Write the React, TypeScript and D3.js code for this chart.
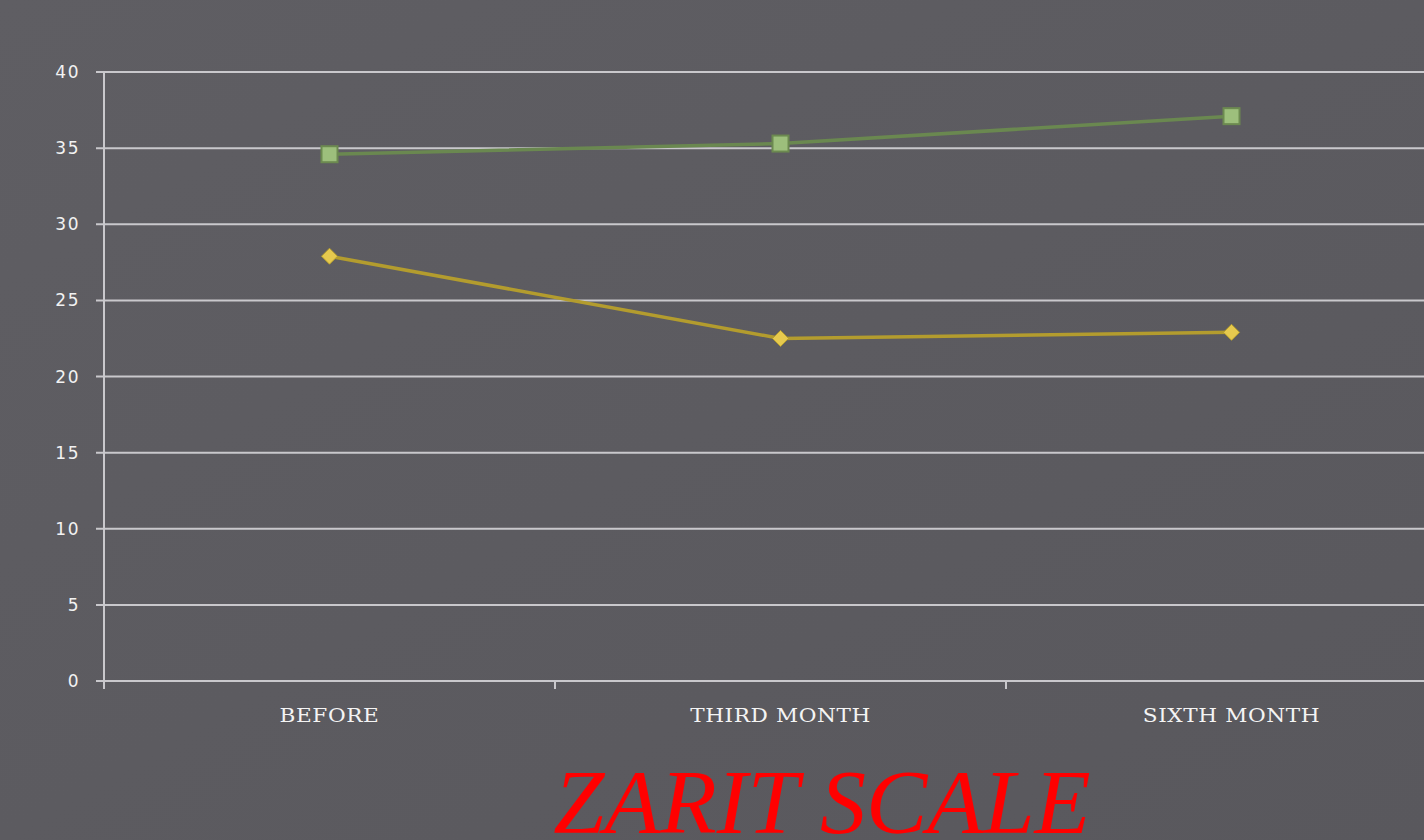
import React from "react";
import * as d3 from "d3";

const categories = ["BEFORE", "THIRD MONTH", "SIXTH MONTH"];
const seriesA = [34.6, 35.3, 37.1];
const seriesB = [27.9, 22.5, 22.9];
const yTicks = [0, 5, 10, 15, 20, 25, 30, 35, 40];
const title = "ZARIT SCALE";

const W = 1424;
const H = 840;

export default function App() {
  const x = d3.scaleBand<string>().domain(categories).range([104, 104 + 451 * 3]);
  const y = d3.scaleLinear().domain([0, 40]).range([681, 72]);
  const cx = (c: string) => (x(c) ?? 0) + x.bandwidth() / 2;
  const line = d3
    .line<number>()
    .x((_, i) => cx(categories[i]))
    .y((d) => y(d));

  return (
    <div style={{ position: "fixed", left: 0, top: 0, width: W, height: H }}>
      <svg width={W} height={H} style={{ display: "block" }}>
        <defs>
          <linearGradient id="bg" x1="0" y1="0" x2="1" y2="1">
            <stop offset="0" stopColor="#5f5e63" />
            <stop offset="1" stopColor="#59585d" />
          </linearGradient>
        </defs>
        <rect width={W} height={H} fill="url(#bg)" />
        {yTicks.map((t) => (
          <g key={t}>
            <line x1={96} x2={W} y1={y(t)} y2={y(t)} stroke="#c9c8cc" strokeWidth={2} />
            <text
              x={80}
              y={y(t)}
              dy="0.36em"
              textAnchor="end"
              fill="#f2f2f2"
              fontFamily="'DejaVu Sans', sans-serif"
              fontSize={17}
              letterSpacing={1.5}
            >
              {t}
            </text>
          </g>
        ))}
        <line x1={104} x2={104} y1={72} y2={689} stroke="#c9c8cc" strokeWidth={2} />
        {categories.slice(1).map((c) => (
          <line key={c} x1={x(c)} x2={x(c)} y1={681} y2={689} stroke="#c9c8cc" strokeWidth={2} />
        ))}
        {categories.map((c) => (
          <text
            key={c}
            transform={`translate(${cx(c)},722) scale(1.2,1)`}
            textAnchor="middle"
            fill="#f4f4f4"
            fontFamily="'DejaVu Serif', serif"
            fontSize={18}
            letterSpacing={0.5}
          >
            {c}
          </text>
        ))}
        <path d={line(seriesA) ?? ""} fill="none" stroke="#6a8850" strokeWidth={3.5} />
        <path d={line(seriesB) ?? ""} fill="none" stroke="#b39c2e" strokeWidth={3.5} />
        {seriesA.map((v, i) => (
          <rect
            key={i}
            x={cx(categories[i]) - 8}
            y={y(v) - 8}
            width={16}
            height={16}
            fill="#9dbf7c"
            stroke="#6c8a50"
            strokeWidth={2}
          />
        ))}
        {seriesB.map((v, i) => {
          const px = cx(categories[i]);
          const py = y(v);
          return (
            <path
              key={i}
              d={`M${px},${py - 8}L${px + 8},${py}L${px},${py + 8}L${px - 8},${py}Z`}
              fill="#e6c94e"
              stroke="#b59e2e"
              strokeWidth={1}
            />
          );
        })}
        <text
          x={822}
          y={833}
          textAnchor="middle"
          fill="#ff0000"
          fontFamily="'Liberation Serif', serif"
          fontStyle="italic"
          fontSize={92}
        >
          {title}
        </text>
      </svg>
    </div>
  );
}
